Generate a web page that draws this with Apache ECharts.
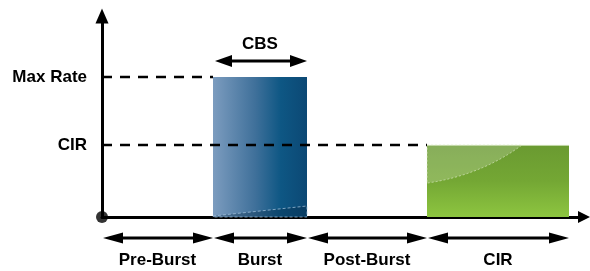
<!DOCTYPE html>
<html>
<head>
<meta charset="utf-8">
<script src="https://cdn.jsdelivr.net/npm/echarts@6/dist/echarts.min.js"></script>
<style>
  html, body { margin: 0; padding: 0; background: #fff; }
  #chart { width: 590px; height: 271px; }
</style>
</head>
<body>
<div id="chart"></div>
<script>
// phases along the time axis
const phases = ['Pre-Burst', 'Burst', 'Post-Burst', 'CIR'];
const phaseStart = [0, 11.1, 20.5, 32.5];
const phaseEnd = [11.1, 20.5, 32.5, 46.7];

// rate levels on the y axis
const levelNames = ['Max Rate', 'CIR'];
const levelValues = [100, 51.5];

// bars: which phase they fill and their rate
const barPhases = ['Burst', 'CIR'];
const barValues = [100, 51.5];

const burstLabel = 'CBS';

const xMax = 48.2;
const yMax = 143.6;
const fontFamily = '"Liberation Sans", Arial, sans-serif';

const chart = echarts.init(document.getElementById('chart'), null, { renderer: 'canvas' });

function arrowHead(tipX, y, dir, len, half) {
  // dir: 1 points right, -1 points left
  return {
    type: 'polygon',
    shape: { points: [[tipX, y], [tipX - dir * len, y - half], [tipX - dir * len, y + half]] },
    style: { fill: '#000' }
  };
}

function doubleArrow(x1, x2, y, len, half) {
  return [
    { type: 'line', shape: { x1: x1 + len - 2, y1: y, x2: x2 - len + 2, y2: y }, style: { stroke: '#000', lineWidth: 3 } },
    arrowHead(x1, y, -1, len, half),
    arrowHead(x2, y, 1, len, half)
  ];
}

const barData = barPhases.map((p, i) => {
  const k = phases.indexOf(p);
  return [phaseStart[k], phaseEnd[k], barValues[i], p];
});

const phaseData = phases.map((p, i) => [phaseStart[i], phaseEnd[i], p]);

const option = {
  animation: false,
  grid: { left: 102, right: 6, top: 16, bottom: 54 },
  xAxis: {
    type: 'value', min: 0, max: xMax,
    axisLine: { show: true, symbol: ['none', 'triangle'], symbolSize: [12, 12], lineStyle: { color: '#000', width: 3 } },
    axisTick: { show: false }, axisLabel: { show: false }, splitLine: { show: false }
  },
  yAxis: {
    type: 'value', min: 0, max: yMax,
    axisLine: { show: true, symbol: ['none', 'triangle'], symbolSize: [13, 15], lineStyle: { color: '#000', width: 3 } },
    axisTick: { show: false }, splitLine: { show: false },
    axisLabel: {
      show: true,
      customValues: levelValues,
      margin: 15,
      color: '#000',
      fontSize: 17,
      fontWeight: 'bold',
      fontFamily: fontFamily,
      padding: [0, 0, 9, 0],
      formatter: v => levelNames[levelValues.indexOf(v)] || ''
    }
  },
  series: [
    {
      // burst and CIR bars
      type: 'custom',
      z: 2,
      clip: false,
      data: barData,
      renderItem(params, api) {
        const p0 = api.coord([api.value(0), 0]);
        const p1 = api.coord([api.value(1), api.value(2)]);
        const x = p0[0], y = p1[1], w = p1[0] - p0[0], h = p0[1] - p1[1];
        const isBurst = api.value(3) === 'Burst';
        if (isBurst) {
          return {
            type: 'group',
            children: [
              {
                type: 'rect', shape: { x, y, width: w, height: h },
                style: {
                  fill: new echarts.graphic.LinearGradient(0, 0, 1, 0, [
                    { offset: 0, color: '#7c9cbf' },
                    { offset: 0.45, color: '#3f709a' },
                    { offset: 0.72, color: '#0e5784' },
                    { offset: 1, color: '#0c4874' }
                  ])
                }
              },
              {
                type: 'polygon',
                shape: { points: [[x, y + h - 1], [x + w, y + h - 11], [x + w, y + h], [x, y + h]] },
                style: { fill: 'rgba(5,40,70,0.35)', stroke: 'rgba(170,200,225,0.7)', lineWidth: 1, lineDash: [3, 2] }
              }
            ]
          };
        }
        return {
          type: 'group',
          children: [
            {
              type: 'rect', shape: { x, y, width: w, height: h },
              style: {
                fill: new echarts.graphic.LinearGradient(0, 0, 0, 1, [
                  { offset: 0, color: '#6a9a31' },
                  { offset: 0.5, color: '#74a734' },
                  { offset: 1, color: '#8dc540' }
                ])
              }
            },
            {
              type: 'path',
              shape: {
                pathData: 'M' + x + ',' + y + ' L' + (x + w * 0.67) + ',' + y +
                  ' Q' + (x + w * 0.38) + ',' + (y + h * 0.42) + ' ' + x + ',' + (y + h * 0.53) + ' Z'
              },
              style: { fill: 'rgba(255,255,255,0.2)', stroke: 'rgba(230,240,210,0.6)', lineWidth: 1, lineDash: [2, 2] }
            },
            { type: 'line', shape: { x1: x, y1: y + 0.5, x2: x + w, y2: y + 0.5 }, style: { stroke: '#c9dcae', lineWidth: 1 } }
          ]
        };
      }
    },
    {
      type: 'line', z: 3, symbol: 'none', silent: true,
      data: [[0, levelValues[0]], [phaseStart[1], levelValues[0]]],
      lineStyle: { color: '#000', width: 2.5, type: [10, 8] }
    },
    {
      type: 'line', z: 3, symbol: 'none', silent: true,
      data: [[0, levelValues[1]], [phaseStart[3], levelValues[1]]],
      lineStyle: { color: '#000', width: 2.5, type: [10, 8] }
    },
    {
      // phase arrows and labels under the time axis
      type: 'custom',
      z: 4,
      clip: false,
      data: phaseData,
      renderItem(params, api) {
        const s = api.coord([api.value(0), 0]);
        const e = api.coord([api.value(1), 0]);
        const y = s[1] + 21;
        return {
          type: 'group',
          children: doubleArrow(s[0] + 1, e[0], y, 20, 5.5).concat([{
            type: 'text',
            style: {
              x: (s[0] + e[0]) / 2, y: s[1] + 43,
              text: api.value(2),
              fill: '#000', fontSize: 17, fontWeight: 'bold', fontFamily: fontFamily,
              align: 'center', verticalAlign: 'middle'
            }
          }])
        };
      }
    },
    {
      // CBS arrow above the burst bar
      type: 'custom',
      z: 4,
      clip: false,
      data: [[phaseStart[1], phaseEnd[1], barValues[0]]],
      renderItem(params, api) {
        const s = api.coord([api.value(0), api.value(2)]);
        const e = api.coord([api.value(1), api.value(2)]);
        const y = s[1] - 16;
        return {
          type: 'group',
          children: doubleArrow(s[0] + 2, e[0], y, 17, 6).concat([{
            type: 'text',
            style: {
              x: (s[0] + e[0]) / 2, y: s[1] - 33,
              text: burstLabel,
              fill: '#000', fontSize: 17, fontWeight: 'bold', fontFamily: fontFamily,
              align: 'center', verticalAlign: 'middle'
            }
          }])
        };
      }
    },
    {
      type: 'scatter', z: 5, clip: false, silent: true,
      data: [[0, 0]],
      symbolSize: 12,
      itemStyle: { color: '#000' }
    }
  ]
};

chart.setOption(option);
</script>
</body>
</html>
